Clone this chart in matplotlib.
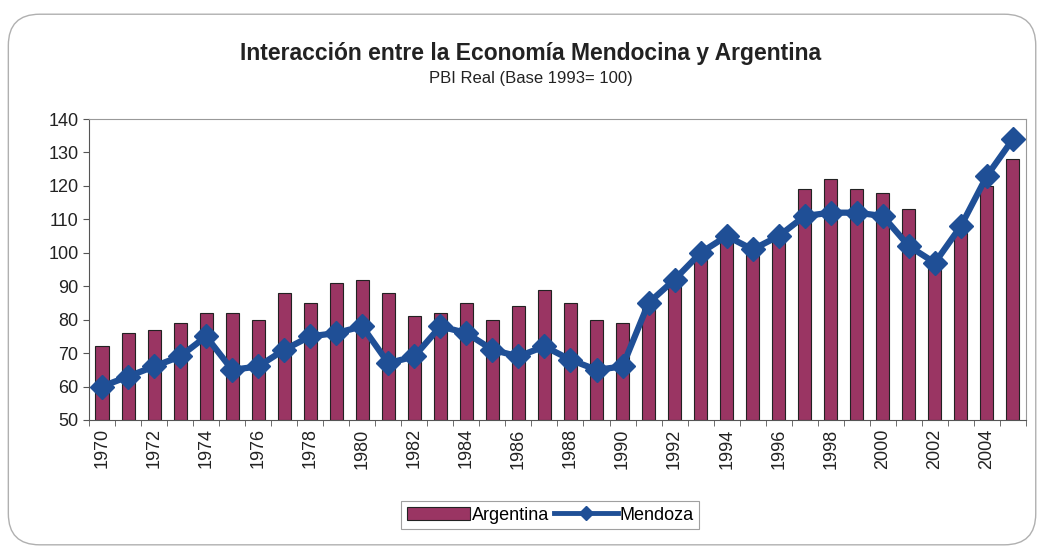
import numpy as np
import matplotlib
matplotlib.use("Agg")
import matplotlib.pyplot as plt
from matplotlib.patches import FancyBboxPatch

plt.rcParams['font.family'] = ['Liberation Sans', 'DejaVu Sans']

# data
years = list(range(1970, 2006))
argentina = [72, 76, 77, 79, 82, 82, 80, 88, 85, 91, 92, 88, 81, 82, 85, 80, 84, 89,
             85, 80, 79, 86, 92, 100, 105, 102, 106, 119, 122, 119, 118, 113, 97, 106,
             120, 128]
mendoza = [60, 63, 66, 69, 75, 65, 66, 71, 75, 76, 78, 67, 69, 78, 76, 71, 69, 72,
           68, 65, 66, 85, 92, 100, 105, 101, 105, 111, 112, 112, 111, 102, 97, 108,
           123, 134]
yticks = [50, 60, 70, 80, 90, 100, 110, 120, 130, 140]

bar_color = '#9a3563'
line_color = '#1f4f96'

fig = plt.figure(figsize=(10.42, 5.47), dpi=100)
ax = fig.add_axes([0.0854, 0.2322, 0.8992, 0.5502])

# rounded frame around the whole chart
frame = FancyBboxPatch((0.008, 0.004), 0.986, 0.97, boxstyle="round,pad=0,rounding_size=0.03",
                       transform=fig.transFigure, fill=False, edgecolor='#b0b0b0', linewidth=1.0,
                       mutation_aspect=1.9)
fig.patches.append(frame)

x = np.arange(len(years))
bars = ax.bar(x, np.array(argentina) - 50, bottom=50, width=0.5, color=bar_color,
              edgecolor='#222222', linewidth=0.8, label='Argentina', zorder=2)
line, = ax.plot(x, mendoza, color=line_color, linewidth=4.5, marker='D', markersize=12,
                label='Mendoza', zorder=3)

ax.set_xlim(-0.5, len(years) - 0.5)
ax.set_ylim(50, 140)
ax.set_yticks(yticks)
ax.set_yticklabels([str(v) for v in yticks], fontsize=13, color='#222222')

# year labels every other year, tick marks between categories
ax.set_xticks(x[::2])
ax.set_xticklabels([str(y) for y in years[::2]], rotation=90, fontsize=13, color='#222222')
ax.tick_params(axis='x', length=0, pad=6)
ax.set_xticks(np.arange(-0.5, len(years), 1), minor=True)
ax.tick_params(axis='x', which='minor', length=4, direction='out', color='#555555')
ax.tick_params(axis='y', length=4, direction='out', color='#555555')

for side in ['top', 'right']:
    ax.spines[side].set_color('#999999')
for side in ['left', 'bottom']:
    ax.spines[side].set_color('#555555')

fig.text(0.509, 0.902, 'Interacción entre la Economía Mendocina y Argentina',
         ha='center', va='center', fontsize=16.5, fontweight='bold', color='#222222')
fig.text(0.509, 0.857, 'PBI Real (Base 1993= 100)', ha='center', va='center',
         fontsize=12, color='#222222')

leg = fig.legend([bars, line], ['Argentina', 'Mendoza'], loc='center',
                 bbox_to_anchor=(0.528, 0.058), ncol=2, fontsize=13,
                 frameon=True, fancybox=False, edgecolor='#888888', handlelength=3.5,
                 columnspacing=0.3, handletextpad=0.1, borderpad=0.3)
leg.get_frame().set_linewidth(0.8)
for h in leg.legend_handles:
    if hasattr(h, 'set_markersize'):
        h.set_markersize(7)
        h.set_linewidth(3.5)

fig.savefig('out.png', dpi=100)
